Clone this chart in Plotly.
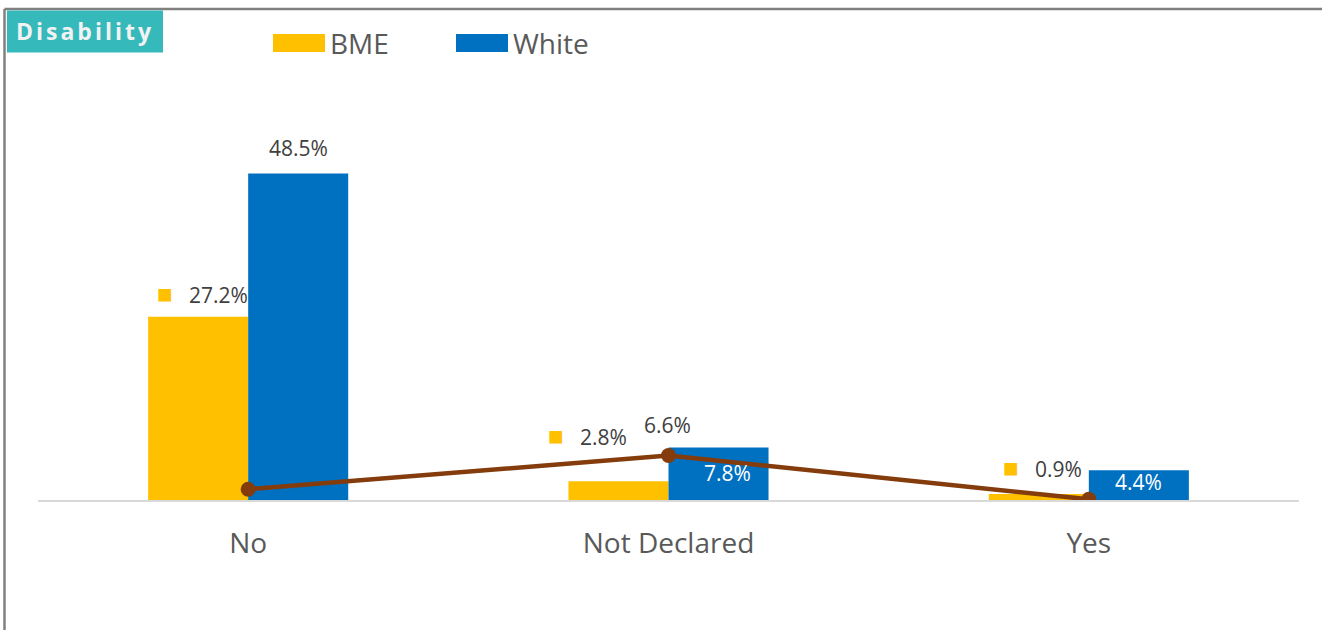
import plotly.graph_objects as go

categories = ["No", "Not Declared", "Yes"]
bme_values = [27.2, 2.8, 0.9]
white_values = [48.5, 7.8, 4.4]
line_values = [1.6, 6.6, 0.1]
bme_labels = ["27.2%", "2.8%", "0.9%"]
white_labels = ["48.5%", "7.8%", "4.4%"]
line_labels = ["", "6.6%", ""]

YELLOW = "#FFC000"
BLUE = "#0070C0"
BROWN = "#843C0C"
FONT = "Open Sans"

W, H = 1322, 630
L, R, T, B = 38, 23, 96, 130
PW, PH = W - L - R, H - T - B


def px_x(px):
    return (px - L) / PW


def px_y(py):
    return (H - B - py) / PH


fig = go.Figure()
fig.add_trace(go.Bar(x=categories, y=bme_values, name="BME", marker_color=YELLOW,
                     marker_line_width=0, showlegend=False))
fig.add_trace(go.Bar(x=categories, y=white_values, name="White", marker_color=BLUE,
                     marker_line_width=0, showlegend=False))
fig.add_trace(go.Scatter(x=categories, y=line_values, mode="lines+markers",
                         line=dict(color=BROWN, width=4.5),
                         marker=dict(color=BROWN, size=15), showlegend=False))

ann = []
# BME labels (with yellow key square)
bme_shift = [(-46, 24), (-81, 46), (-46, 27)]
for c, v, t, (dx, dy) in zip(categories, bme_values, bme_labels, bme_shift):
    ann.append(dict(x=c, y=v, xref="x", yref="y", xshift=dx, yshift=dy,
                    text=f'<span style="color:{YELLOW};font-size:26px">■</span>   {t}',
                    showarrow=False, font=dict(family=FONT, size=21, color="#404040"),
                    xanchor="center", yanchor="middle"))
# White labels
white_shift = [(50, 25, "#404040"), (59, -26, "#FFFFFF"), (50, -12, "#FFFFFF")]
for c, v, t, (dx, dy, col) in zip(categories, white_values, white_labels, white_shift):
    ann.append(dict(x=c, y=v, xref="x", yref="y", xshift=dx, yshift=dy, text=t,
                    showarrow=False, font=dict(family=FONT, size=21, color=col),
                    xanchor="center", yanchor="middle"))
# Line labels
for c, v, t in zip(categories, line_values, line_labels):
    if t:
        ann.append(dict(x=c, y=v, xref="x", yref="y", xshift=-1, yshift=31, text=t,
                        showarrow=False, font=dict(family=FONT, size=21, color="#404040"),
                        xanchor="center", yanchor="middle"))

# Title box text
ann.append(dict(x=px_x(85), y=px_y(31), xref="paper", yref="paper",
                text='<span style="letter-spacing:3px"><b>Disability</b></span>',
                showarrow=False, font=dict(family=FONT, size=23, color="#F2F2F2"),
                xanchor="center", yanchor="middle"))
# Legend texts
ann.append(dict(x=px_x(328), y=px_y(43), xref="paper", yref="paper", text="BME",
                showarrow=False, font=dict(family=FONT, size=28, color="#595959"),
                xanchor="left", yanchor="middle"))
ann.append(dict(x=px_x(511), y=px_y(43), xref="paper", yref="paper", text="White",
                showarrow=False, font=dict(family=FONT, size=28, color="#595959"),
                xanchor="left", yanchor="middle"))

shapes = [
    # frame
    dict(type="line", xref="paper", yref="paper", x0=px_x(4.5), x1=px_x(1322),
         y0=px_y(9), y1=px_y(9), line=dict(color="#808080", width=2.5)),
    dict(type="line", xref="paper", yref="paper", x0=px_x(4.5), x1=px_x(4.5),
         y0=px_y(9), y1=px_y(632), line=dict(color="#808080", width=2.5)),
    # title box
    dict(type="rect", xref="paper", yref="paper", x0=px_x(7), x1=px_x(163),
         y0=px_y(10.5), y1=px_y(52.5), fillcolor="#35B9BB", line_width=0),
    # legend keys
    dict(type="rect", xref="paper", yref="paper", x0=px_x(273), x1=px_x(325),
         y0=px_y(34), y1=px_y(52), fillcolor=YELLOW, line_width=0),
    dict(type="rect", xref="paper", yref="paper", x0=px_x(456), x1=px_x(508),
         y0=px_y(34), y1=px_y(52), fillcolor=BLUE, line_width=0),
]

fig.update_layout(
    width=W, height=H,
    margin=dict(l=L, r=R, t=T, b=B),
    paper_bgcolor="white", plot_bgcolor="white",
    barmode="group", bargap=0.524, bargroupgap=0,
    annotations=ann, shapes=shapes,
    xaxis=dict(showline=True, linecolor="#D9D9D9", linewidth=2, showgrid=False,
               ticks="", ticklabelstandoff=17,
               tickfont=dict(family=FONT, size=28, color="#595959"), fixedrange=True),
    yaxis=dict(range=[0, 60], showgrid=False, zeroline=False, showticklabels=False,
               showline=False, fixedrange=True),
    showlegend=False,
)

fig.write_html("out.html")
